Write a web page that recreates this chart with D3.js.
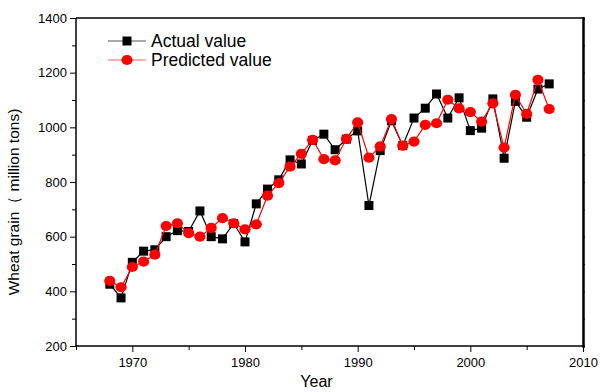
<!DOCTYPE html>
<html>
<head>
<meta charset="utf-8">
<style>
body { margin: 0; background: #fff; font-family: "Liberation Sans", Arial, sans-serif; }
svg text { font-family: "Liberation Sans", Arial, sans-serif; }
.axis text { font-size: 13px; fill: #000; }
.axis path, .axis line { stroke: #000; }
</style>
</head>
<body>
<div id="vis"></div>
<script src="https://cdnjs.cloudflare.com/ajax/libs/d3/7.8.5/d3.min.js"></script>
<script>
// years 1968-2007
var years = d3.range(1968, 2008);

var actual = [426, 376, 506, 547, 552, 600, 622, 619, 694, 600,
              592, 648, 581, 720, 774, 808, 881, 866, 952, 975,
              918, 957, 987, 714, 915, 1024, 933, 1034, 1070, 1122,
              1034, 1108, 988, 997, 1104, 887, 1095, 1037, 1140, 1159];

var predicted = [438, 415, 489, 509, 534, 639, 649, 613, 600, 632,
                 668, 649, 627, 645, 750, 796, 856, 903, 954, 884,
                 879, 958, 1018, 889, 930, 1030, 933, 948, 1009, 1015,
                 1101, 1069, 1056, 1021, 1088, 926, 1119, 1049, 1174, 1067];

var xTicks = [1970, 1980, 1990, 2000, 2010];
var yTicks = [200, 400, 600, 800, 1000, 1200, 1400];

var W = 600, H = 392;
var margin = {top: 18, right: 17, bottom: 46, left: 76};
var width = W - margin.left - margin.right,
    height = H - margin.top - margin.bottom;

var x = d3.scaleLinear().domain([1965, 2010]).range([0, width]);
var y = d3.scaleLinear().domain([200, 1400]).range([height, 0]);

var svg = d3.select("#vis").append("svg")
    .attr("width", W)
    .attr("height", H)
  .append("g")
    .attr("transform", "translate(" + margin.left + "," + margin.top + ")");

// minor ticks
svg.append("g")
    .attr("class", "axis")
    .attr("transform", "translate(0," + height + ")")
    .call(d3.axisBottom(x).tickValues(d3.range(1965, 2011, 10)).tickSize(4).tickFormat(""))
    .call(function(g) { g.select(".domain").remove(); });

svg.append("g")
    .attr("class", "axis")
    .call(d3.axisLeft(y).tickValues(d3.range(300, 1400, 200)).tickSize(4).tickFormat(""))
    .call(function(g) { g.select(".domain").remove(); });

// right axis (small outward ticks)
svg.append("g")
    .attr("class", "axis")
    .attr("transform", "translate(" + width + ",0)")
    .call(d3.axisRight(y).tickValues(d3.range(200, 1401, 100)).tickSize(2).tickFormat(""))
    .call(function(g) {
      g.select(".domain").attr("stroke", "#444").attr("stroke-width", 2.5);
      g.selectAll("line").attr("stroke", "#444");
    });

// top axis
svg.append("line")
    .attr("x1", 0).attr("x2", width + 1)
    .attr("y1", 0).attr("y2", 0)
    .attr("stroke", "#000")
    .attr("stroke-width", 1.5);

// major axes
svg.append("g")
    .attr("class", "axis")
    .attr("transform", "translate(0," + height + ")")
    .call(d3.axisBottom(x).tickValues(xTicks).tickSize(6).tickPadding(6).tickFormat(d3.format("d")))
    .call(function(g) {
      g.select(".domain").attr("stroke-width", 1.5).attr("d", "M0,0H" + width);
    });

svg.append("g")
    .attr("class", "axis")
    .call(d3.axisLeft(y).tickValues(yTicks).tickSize(6).tickPadding(3).tickFormat(d3.format("d")))
    .call(function(g) {
      g.select(".domain").attr("stroke-width", 1.5).attr("d", "M0," + height + "V0");
    });

// axis titles
svg.append("text")
    .attr("x", width / 2 - 13)
    .attr("y", height + 41)
    .attr("text-anchor", "middle")
    .style("font-size", "16px")
    .text("Year");

svg.append("text")
    .attr("transform", "translate(" + (-57) + "," + (height / 2 + 20) + ") rotate(-90)")
    .attr("text-anchor", "middle")
    .style("font-size", "15.5px")
    .text("Wheat grain（ million tons)");

var line = d3.line()
    .x(function(d, i) { return x(years[i]); })
    .y(function(d) { return y(d); });

// actual series
svg.append("path")
    .datum(actual)
    .attr("fill", "none")
    .attr("stroke", "#000")
    .attr("stroke-width", 1.2)
    .attr("d", line);

svg.selectAll(".sq")
    .data(actual)
  .enter().append("rect")
    .attr("class", "sq")
    .attr("x", function(d, i) { return x(years[i]) - 4.5; })
    .attr("y", function(d) { return y(d) - 4.5; })
    .attr("width", 9)
    .attr("height", 9)
    .attr("fill", "#000");

// predicted series
svg.append("path")
    .datum(predicted)
    .attr("fill", "none")
    .attr("stroke", "#f00")
    .attr("stroke-width", 1.2)
    .attr("d", line);

svg.selectAll(".dot")
    .data(predicted)
  .enter().append("ellipse")
    .attr("class", "dot")
    .attr("cx", function(d, i) { return x(years[i]); })
    .attr("cy", function(d) { return y(d); })
    .attr("rx", 5.6)
    .attr("ry", 5.1)
    .attr("fill", "#f00");

// legend
var legend = svg.append("g").attr("transform", "translate(32,23)");

legend.append("line")
    .attr("x1", 0).attr("x2", 38).attr("y1", 0).attr("y2", 0)
    .attr("stroke", "#555").attr("stroke-width", 1.2);
legend.append("rect")
    .attr("x", 14.5).attr("y", -4.5).attr("width", 9).attr("height", 9)
    .attr("fill", "#000");
legend.append("text")
    .attr("x", 43).attr("y", 6)
    .style("font-size", "17.5px")
    .text("Actual value");

legend.append("line")
    .attr("x1", 0).attr("x2", 38).attr("y1", 19).attr("y2", 19)
    .attr("stroke", "#f66").attr("stroke-width", 1.2);
legend.append("ellipse")
    .attr("cx", 19).attr("cy", 19).attr("rx", 5.6).attr("ry", 5.1)
    .attr("fill", "#f00");
legend.append("text")
    .attr("x", 43).attr("y", 25)
    .style("font-size", "17.5px")
    .text("Predicted value");
</script>
</body>
</html>
